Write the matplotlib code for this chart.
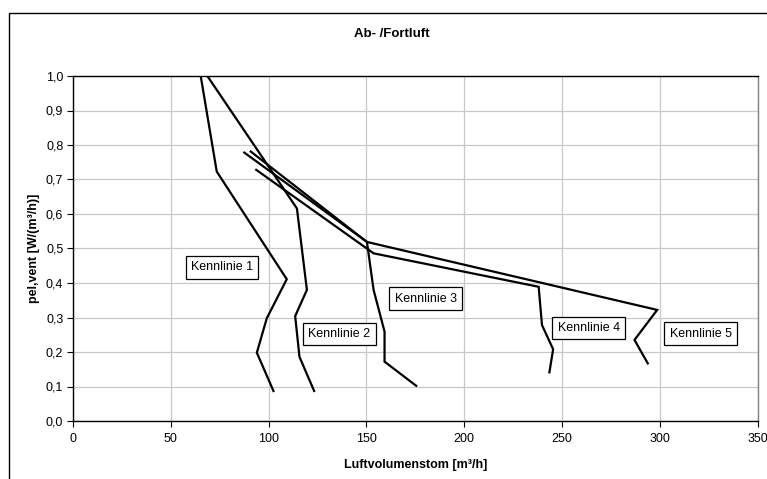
import matplotlib
matplotlib.use("Agg")
import matplotlib.pyplot as plt
from matplotlib.patches import Rectangle
from matplotlib.ticker import FuncFormatter, MultipleLocator

plt.rcParams['font.family'] = ['Liberation Sans', 'DejaVu Sans']

# Data
k1_x = [65.3, 73.5, 109.3, 99.1, 94.0, 102.5]
k1_y = [1.00, 0.723, 0.411, 0.298, 0.198, 0.087]
k2_x = [68.7, 114.5, 119.6, 113.6, 115.8, 123.3]
k2_y = [1.00, 0.616, 0.380, 0.304, 0.186, 0.087]
k3_x = [87.6, 150.3, 153.7, 159.3, 159.3, 175.5]
k3_y = [0.778, 0.519, 0.380, 0.259, 0.172, 0.102]
k4_x = [93.7, 153.7, 238.1, 239.8, 245.5, 243.6]
k4_y = [0.728, 0.486, 0.389, 0.278, 0.208, 0.141]
k5_x = [90.9, 150.3, 298.7, 287.1, 293.9]
k5_y = [0.781, 0.519, 0.322, 0.235, 0.167]

labels = ["Kennlinie 1", "Kennlinie 2", "Kennlinie 3", "Kennlinie 4", "Kennlinie 5"]
label_x = [76.1, 136.2, 180.3, 263.7, 320.9]
label_y = [0.445, 0.252, 0.355, 0.270, 0.253]

x_ticks = [0, 50, 100, 150, 200, 250, 300, 350]
title = "Ab- /Fortluft"
xlabel = "Luftvolumenstom [m³/h]"
ylabel = "pel,vent [W/(m³/h)]"

fig = plt.figure(figsize=(7.67, 4.79), dpi=100)
# outer chart frame
fig.patches.append(Rectangle((9 / 767, -0.1), 1.1, 1 - 13 / 479 + 0.1,
                             transform=fig.transFigure, fill=False,
                             edgecolor='black', linewidth=1.0))

ax = fig.add_axes([73 / 767, 1 - 421 / 479, (757.5 - 73) / 767, (421 - 76) / 479])

for xs, ys in [(k1_x, k1_y), (k2_x, k2_y), (k3_x, k3_y), (k4_x, k4_y), (k5_x, k5_y)]:
    ax.plot(xs, ys, color='black', linewidth=1.6, solid_joinstyle='miter', zorder=3)

for t, x, y in zip(labels, label_x, label_y):
    ax.text(x, y, t, fontsize=9, ha='center', va='center', zorder=4,
            bbox=dict(boxstyle='square,pad=0.42', facecolor='white',
                      edgecolor='black', linewidth=0.9))

ax.set_xlim(0, 350)
ax.set_ylim(0, 1.0)
ax.set_xticks(x_ticks)
ax.yaxis.set_major_locator(MultipleLocator(0.1))
ax.yaxis.set_major_formatter(FuncFormatter(lambda v, p: f"{v:.1f}".replace('.', ',')))
ax.grid(True, color='#c8c8c8', linewidth=0.9)
ax.set_axisbelow(True)
ax.tick_params(direction='out', length=4, width=0.8, labelsize=9)
ax.tick_params(axis='y', pad=3)
ax.tick_params(axis='x', pad=5)

for s in ['left', 'bottom', 'top']:
    ax.spines[s].set_color('black')
    ax.spines[s].set_linewidth(1.0)
ax.spines['right'].set_color('#808080')
ax.spines['right'].set_linewidth(1.0)

ax.set_xlabel(xlabel, fontsize=9, fontweight='bold', labelpad=10)
ax.set_ylabel(ylabel, fontsize=9, fontweight='bold', labelpad=4)
fig.text(392 / 767, 1 - 34 / 479, title, fontsize=9.5, fontweight='bold',
         ha='center', va='center')

fig.savefig("out.png", dpi=100)
